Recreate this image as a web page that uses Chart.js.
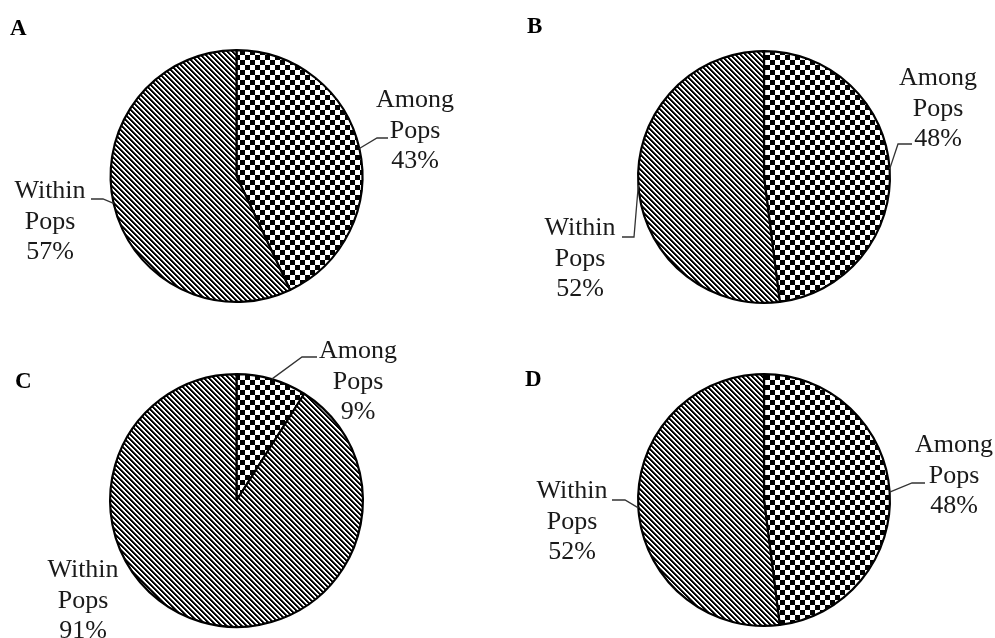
<!DOCTYPE html>
<html>
<head>
<meta charset="utf-8">
<script src="https://cdn.jsdelivr.net/npm/chart.js@4.4.1/dist/chart.umd.min.js"></script>
<style>
  html, body { margin: 0; padding: 0; background: #fff; }
  #wrap { position: relative; width: 995px; height: 638px; overflow: hidden; background: #fff; }
  #wrap canvas { position: absolute; left: 0; top: 0; }
</style>
</head>
<body>
<div id="wrap"></div>
<script>
// AMOVA partitioning of variance, one pie per panel
const panelNames = ['A', 'B', 'C', 'D'];
const categories = ['Among Pops', 'Within Pops'];
const amongPops  = [43, 48, 9, 48];
const withinPops = [57, 52, 91, 52];

const W = 995, H = 638;
const SERIF = '"Liberation Serif", "Times New Roman", serif';

// where each pie sits on the page (centre and outer radius)
const pieFrames = [
  { cx: 236.5, cy: 176,   r: 127 },
  { cx: 764,   cy: 177,   r: 127 },
  { cx: 236.5, cy: 500.5, r: 127.5 },
  { cx: 764,   cy: 500,   r: 127 }
];

// panel letter positions (left, baseline)
const letterPos = [
  { x: 10,  y: 35 },
  { x: 527, y: 33 },
  { x: 15,  y: 388 },
  { x: 525, y: 386 }
];

// label placement per slice: text centre x, first baseline, leader [elbowX, elbowY, endX]
const labelLayout = [
  [ { x: 415, y: 107, leader: [377, 138, 388] }, { x: 50,  y: 198, leader: [103, 199, 91] } ],
  [ { x: 938, y: 85,  leader: [898, 144, 912] }, { x: 580, y: 235, leader: [634, 237, 622] } ],
  [ { x: 358, y: 358, leader: [302, 357, 317] }, { x: 83,  y: 577, leader: null } ],
  [ { x: 954, y: 452, leader: [912, 483, 925] }, { x: 572, y: 498, leader: [625, 500, 612] } ]
];
const LINE_H = 30.5;

// fill patterns: checkerboard and downward diagonal hatch
const CHECK = 5;   // checker square size
const HATCH = 5;   // hatch period along x
function makeChecker() {
  const s = CHECK;
  const c = document.createElement('canvas');
  c.width = 2 * s; c.height = 2 * s;
  const g = c.getContext('2d');
  g.fillStyle = '#fff'; g.fillRect(0, 0, 2 * s, 2 * s);
  g.fillStyle = '#000';
  g.fillRect(0, 0, s, s);
  g.fillRect(s, s, s, s);
  return g.createPattern(c, 'repeat');
}
function makeHatch() {
  const n = HATCH;
  const shade = [0, 0, 90, 255, 255];
  const c = document.createElement('canvas');
  c.width = n; c.height = n;
  const g = c.getContext('2d');
  const img = g.createImageData(n, n);
  for (let y = 0; y < n; y++) {
    for (let x = 0; x < n; x++) {
      const k = (((x - y) % n) + n) % n;
      const v = shade[k];
      const i = (y * n + x) * 4;
      img.data[i] = v; img.data[i + 1] = v; img.data[i + 2] = v; img.data[i + 3] = 255;
    }
  }
  g.putImageData(img, 0, 0);
  return g.createPattern(c, 'repeat');
}

const sliceLabels = {
  id: 'sliceLabels',
  afterDatasetsDraw(chart, args, opts) {
    const ctx = chart.ctx;
    const meta = chart.getDatasetMeta(0);
    const values = chart.data.datasets[0].data;
    ctx.save();
    ctx.font = '26px ' + SERIF;
    ctx.fillStyle = '#1a1a1a';
    ctx.textAlign = 'center';
    ctx.textBaseline = 'alphabetic';
    meta.data.forEach((arc, i) => {
      const lay = opts.layout[i];
      const p = arc.getProps(['x', 'y', 'startAngle', 'endAngle', 'outerRadius'], true);
      const mid = (p.startAngle + p.endAngle) / 2;
      const ax = p.x + Math.cos(mid) * p.outerRadius;
      const ay = p.y + Math.sin(mid) * p.outerRadius;
      if (lay.leader) {
        ctx.beginPath();
        ctx.moveTo(ax, ay);
        ctx.lineTo(lay.leader[0], lay.leader[1]);
        ctx.lineTo(lay.leader[2], lay.leader[1]);
        ctx.strokeStyle = '#333';
        ctx.lineWidth = 1.3;
        ctx.stroke();
      }
      const lines = chart.data.labels[i].split(' ').concat([values[i] + '%']);
      lines.forEach((t, k) => ctx.fillText(t, lay.x, lay.y + k * LINE_H));
    });
    ctx.font = 'bold 23px ' + SERIF;
    ctx.fillStyle = '#000';
    ctx.textAlign = 'left';
    ctx.fillText(opts.letter, opts.letterX, opts.letterY);
    ctx.restore();
  }
};

const wrap = document.getElementById('wrap');
const checker = makeChecker();
const hatch = makeHatch();

panelNames.forEach((name, idx) => {
  const canvas = document.createElement('canvas');
  canvas.width = W; canvas.height = H;
  canvas.style.width = W + 'px'; canvas.style.height = H + 'px';
  wrap.appendChild(canvas);
  const f = pieFrames[idx];
  new Chart(canvas, {
    type: 'pie',
    data: {
      labels: categories,
      datasets: [{
        data: [amongPops[idx], withinPops[idx]],
        backgroundColor: [checker, hatch],
        borderColor: '#000',
        borderWidth: 2.2,
        hoverOffset: 0
      }]
    },
    options: {
      responsive: false,
      animation: false,
      events: [],
      layout: {
        padding: {
          left: f.cx - f.r,
          top: f.cy - f.r,
          right: W - f.cx - f.r,
          bottom: H - f.cy - f.r
        }
      },
      plugins: {
        legend: { display: false },
        tooltip: { enabled: false },
        sliceLabels: {
          layout: labelLayout[idx],
          letter: name,
          letterX: letterPos[idx].x,
          letterY: letterPos[idx].y
        }
      }
    },
    plugins: [sliceLabels]
  });
});
</script>
</body>
</html>
